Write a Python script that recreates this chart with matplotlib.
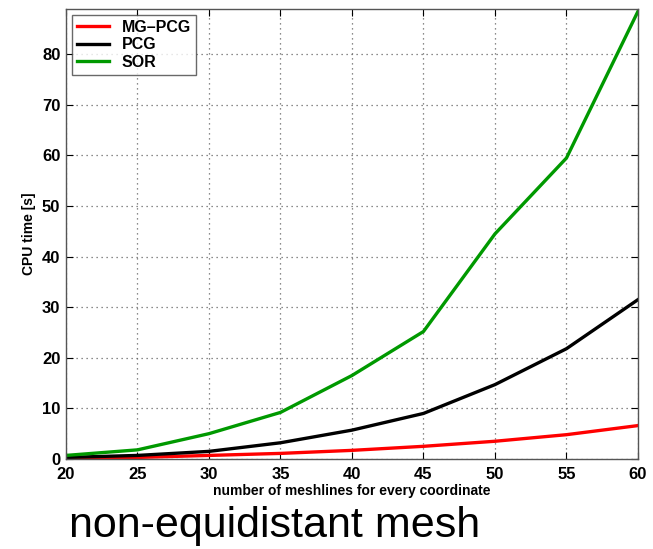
import matplotlib
matplotlib.use('Agg')
import matplotlib.pyplot as plt

plt.rcParams['font.family'] = ['Liberation Sans', 'DejaVu Sans']

meshlines = [20, 25, 30, 35, 40, 45, 50, 55, 60]
mg_pcg = [0.1, 0.3, 0.7, 1.1, 1.7, 2.5, 3.5, 4.8, 6.6]
pcg = [0.3, 0.7, 1.5, 3.2, 5.7, 9.0, 14.7, 21.8, 31.5]
sor = [0.7, 1.8, 5.0, 9.2, 16.5, 25.2, 44.5, 59.5, 88.5]

fig = plt.figure(figsize=(6.53, 5.49), dpi=100)
ax = fig.add_axes([0.101, 0.164, 0.876, 0.820])

ax.plot(meshlines, mg_pcg, color='#ff0000', linewidth=2.4, label='MG\u2013PCG')
ax.plot(meshlines, pcg, color='black', linewidth=2.4, label='PCG')
ax.plot(meshlines, sor, color='#009900', linewidth=2.4, label='SOR')

ax.set_xlim(20, 60)
ax.set_ylim(0, 89)
ax.set_xticks(range(20, 61, 5))
ax.set_yticks(range(0, 81, 10))
ax.grid(True, linestyle=(0, (1, 3)), color='#666666', linewidth=0.9)
ax.tick_params(direction='in', top=True, right=True, length=5, labelsize=12)
ax.tick_params(axis='x', pad=6)
ax.tick_params(axis='y', pad=4)
for lab in ax.get_xticklabels() + ax.get_yticklabels():
    lab.set_fontweight('bold')
for s in ax.spines.values():
    s.set_color('#555555')
    s.set_linewidth(1.0)

ax.set_xlabel('number of meshlines for every coordinate', fontsize=10, fontweight='bold', labelpad=1)
ax.set_ylabel('CPU time [s]', fontsize=10, fontweight='bold', labelpad=4)

leg = ax.legend(loc='upper left', prop={'weight': 'bold', 'size': 11.5},
                fancybox=False, edgecolor='#444444', handlelength=2.0,
                borderpad=0.3, labelspacing=0.15, borderaxespad=0.4)
leg.get_frame().set_linewidth(1.0)

fig.text(0.42, 0.005, 'non-equidistant mesh', ha='center', va='bottom', fontsize=31)

fig.savefig('out.png', dpi=100)
